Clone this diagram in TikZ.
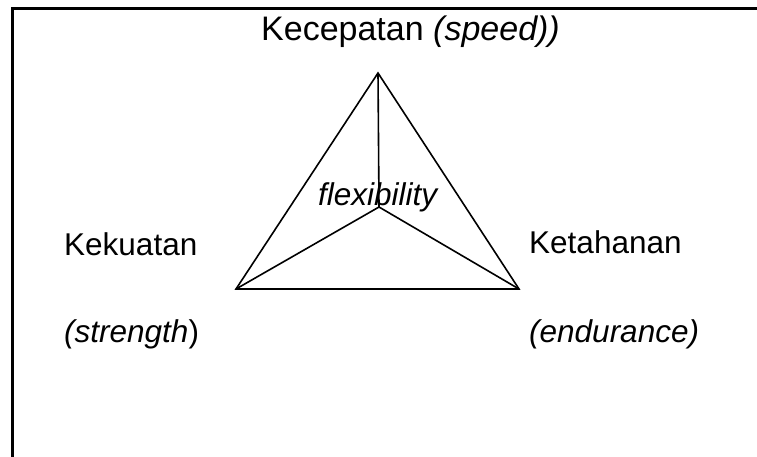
\documentclass[tikz,border=0pt]{standalone}
\usepackage{fontspec}
\setmainfont{Liberation Sans}
\usepackage{tikz}
\usetikzlibrary{positioning}

\tikzset{
  lbl/.style={anchor=base west, inner sep=0pt, font=\fontsize{31.5}{37}\selectfont},
  toplbl/.style={lbl, font=\fontsize{34}{40}\selectfont},
  edge/.style={line width=1.6pt, line join=miter}
}

\begin{document}
\begin{tikzpicture}[x=1pt,y=-1pt]
  % frame, cut off at the right and bottom
  \clip (0,0) rectangle (757,456);
  \fill[white] (0,0) rectangle (757,456);
  \draw[line width=3pt] (12.5,470) -- (12.5,8.5) -- (770,8.5);
  % corners of the triangle and the middle point
  \coordinate (spd) at (378,73);
  \coordinate (str) at (236,289);
  \coordinate (end) at (519,289);
  \coordinate (flx) at (379,207);
  \node[lbl] (flxlbl) at (318,205) {\itshape flexibility};
  \draw[edge] (spd) -- (str) -- (end) -- cycle;
  \draw[edge] (spd) -- (flx);
  \draw[edge] (str) -- (flx) -- (end);
  % labels
  \node[toplbl] (spdlbl) at (261,40) {Kecepatan \textit{(speed))}};
  \node[lbl] (strlbl) at (64,255) {Kekuatan};
  \node[lbl] (strsub) at (64,342) {\textit{(strength})};
  \node[lbl] (endlbl) at (529,253) {Ketahanan};
  \node[lbl] (endsub) at (529,342) {\textit{(endurance)}};
\end{tikzpicture}
\end{document}
